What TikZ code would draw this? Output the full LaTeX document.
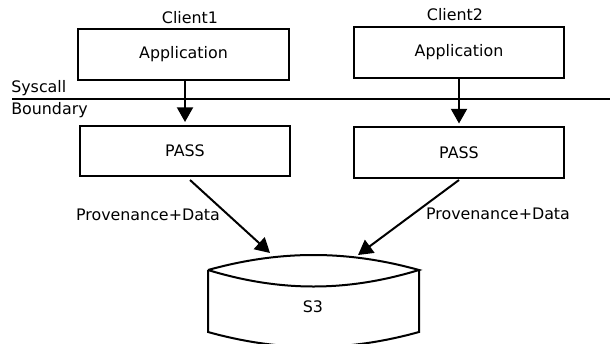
\documentclass[tikz,border=0pt]{standalone}
\usepackage{fontspec}
\setmainfont{DejaVu Sans}
\usetikzlibrary{arrows.meta}
\begin{document}
\begin{tikzpicture}[x=0.75pt,y=-0.75pt,
  box/.style={draw,line width=1.5pt,minimum width=158pt,minimum height=38pt,inner sep=0pt,font=\fontsize{11.9}{14}\selectfont},
  lbl/.style={font=\fontsize{11.9}{14}\selectfont,inner sep=0pt},
  arr/.style={line width=1.5pt,-{Triangle[length=11pt,width=12pt]}}]
\useasboundingbox (0,0) rectangle (610,343);
\node[box] (app1) at (183.5,54.5) {Application};
\node[box] (app2) at (459,52.5) {Application};
\node[box] (pass1) at (185,151) {PASS};
\node[box] (pass2) at (459,152.5) {PASS};
\node[lbl] (c1) at (190,18) {Client1};
\node[lbl] (c2) at (455,15) {Client2};
\coordinate (sl) at (12,98.5);
\coordinate (sr) at (610,98.5);
\draw[line width=1.5pt] (sl) -- (sr);
\node[lbl,anchor=west] (sys) at (11,88) {Syscall};
\node[lbl,anchor=west] (bnd) at (11,110) {Boundary};
\draw[arr,shorten >=2pt] (app1.south -| pass1.north) -- (pass1.north);
\draw[arr,shorten >=2pt] (app2.south -| pass2.north) -- (pass2.north);
% cylinder
\coordinate (s3tl) at (208,270);
\coordinate (s3tr) at (419,270);
\draw[line width=1.5pt] (208,270) .. controls (280,250) and (347,250) .. (419,270)
  .. controls (347,292) and (280,292) .. (208,270);
\draw[line width=1.5pt] (208,270) -- (208,332) .. controls (280,352) and (347,352) .. (419,332) -- (419,270);
\node[lbl] (s3) at (313,307) {S3};
\coordinate (t1) at (270,253);
\coordinate (t2) at (358,255);
\draw[arr] (190,180) -- (t1);
\draw[arr] (459,180) -- (t2);
\node[lbl] (pd1) at (148,215) {Provenance+Data};
\node[lbl] (pd2) at (498,214) {Provenance+Data};
\end{tikzpicture}
\end{document}
